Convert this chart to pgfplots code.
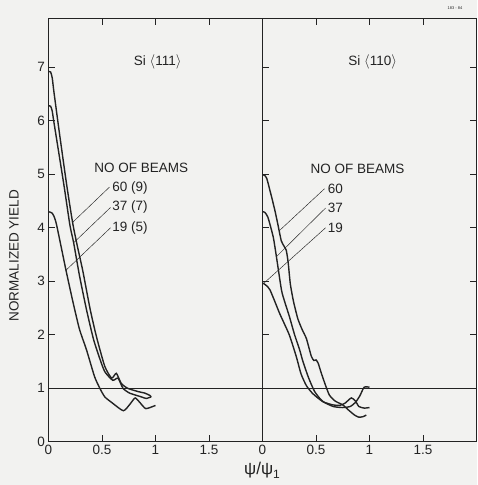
\documentclass[border=0pt]{standalone}
\usepackage{fontspec}
\setmainfont{Liberation Sans}
\usepackage{pgfplots}
\pgfplotsset{compat=1.18}
\definecolor{bg}{RGB}{242,242,240}
\definecolor{ink}{RGB}{35,35,35}
\newcommand{\lbl}{\fontsize{13.5}{15}\selectfont}
\tikzset{lead/.style={ink, line width=0.45pt}}
\begin{document}
\begin{tikzpicture}
\useasboundingbox (-48.5pt,-43.2pt) rectangle (428.5pt,441.8pt);
\fill[bg] (-48.5pt,-43.2pt) rectangle (428.5pt,441.8pt);
\pgfplotsset{
  panel/.style={
    scale only axis, width=214pt, height=423.8pt,
    xmin=0, xmax=2, ymin=0, ymax=7.92,
    axis line style={ink, line width=0.8pt},
    tick style={ink, line width=0.7pt},
    major tick length=6.5pt,
    tick align=inside,
    xtick={0,0.5,1,1.5},
    xticklabels={0,0.5,1,1.5},
    xtick pos=both, xticklabel pos=lower,
    /pgf/number format/assume math mode=true,
    tick label style={font=\lbl, text=ink},
    clip=false,
  },
  curve/.style={ink, line width=1.4pt, smooth, tension=0.35, no marks},
}
% ---------------- left panel: Si <111>
\begin{axis}[panel, name=L,
  ytick={0,1,2,3,4,5,6,7}, ytick pos=left]
\addplot[ink, line width=0.6pt] coordinates {(0,1) (2,1)};
% 60 (9)
\addplot[curve] coordinates {(0,6.92) (0.02,6.91) (0.035,6.8) (0.05,6.55) (0.1,5.8) (0.17,4.8) (0.225,4.1) (0.265,3.7) (0.32,3.2) (0.39,2.47) (0.45,1.95) (0.526,1.41) (0.59,1.19) (0.634,1.28) (0.68,1.09) (0.74,1.0) (0.835,0.94) (0.9,0.91) (0.944,0.87) (0.96,0.84)};
% 37 (7)
\addplot[curve] coordinates {(0,6.28) (0.02,6.27) (0.035,6.18) (0.05,5.98) (0.144,4.8) (0.2,4.05) (0.235,3.72) (0.29,3.1) (0.355,2.47) (0.42,1.92) (0.48,1.55) (0.526,1.31) (0.6,1.15) (0.65,1.19) (0.696,1.0) (0.758,0.91) (0.867,0.84) (0.913,0.81) (0.96,0.84)};
% 19 (5)
\addplot[curve] coordinates {(0,4.3) (0.03,4.28) (0.05,4.22) (0.076,4.05) (0.163,3.21) (0.23,2.6) (0.29,2.1) (0.355,1.72) (0.43,1.22) (0.48,1.0) (0.526,0.84) (0.6,0.72) (0.7,0.58) (0.76,0.7) (0.81,0.82) (0.86,0.72) (0.91,0.62) (1.0,0.68)};
\draw[lead] (axis cs:0.57,4.76) -- (axis cs:0.225,4.1);
\draw[lead] (axis cs:0.58,4.38) -- (axis cs:0.235,3.72);
\draw[lead] (axis cs:0.58,4.0) -- (axis cs:0.16,3.2);
\node[font=\lbl, text=ink] at (axis cs:1.02,7.1) {Si \ensuremath{\langle}111\ensuremath{\rangle}};
\node[font=\lbl, text=ink] at (axis cs:0.866,5.12) {NO OF BEAMS};
\node[font=\lbl, text=ink, anchor=west, inner sep=1pt] at (axis cs:0.585,4.74) {60 (9)};
\node[font=\lbl, text=ink, anchor=west, inner sep=1pt] at (axis cs:0.585,4.38) {37 (7)};
\node[font=\lbl, text=ink, anchor=west, inner sep=1pt] at (axis cs:0.585,4.0) {19 (5)};
\end{axis}
% ---------------- right panel: Si <110>
\begin{axis}[panel, name=R, at={(214pt,0pt)}, anchor=south west,
  ytick={1,2,3,4,5,6,7}, yticklabels={}, ytick pos=both]
\addplot[ink, line width=0.6pt] coordinates {(0,1) (2,1)};
% 60
\addplot[curve] coordinates {(0,4.99) (0.02,4.98) (0.04,4.92) (0.068,4.71) (0.114,4.34) (0.145,4.05) (0.175,3.76) (0.2,3.66) (0.222,3.58) (0.24,3.35) (0.26,2.95) (0.29,2.62) (0.33,2.3) (0.37,2.1) (0.41,1.93) (0.456,1.6) (0.48,1.52) (0.5,1.53) (0.52,1.47) (0.55,1.28) (0.59,1.05) (0.626,0.87) (0.68,0.76) (0.75,0.69) (0.8,0.6) (0.86,0.5) (0.9,0.46) (0.94,0.47) (0.97,0.5)};
% 37
\addplot[curve] coordinates {(0,4.3) (0.02,4.29) (0.05,4.2) (0.1,3.83) (0.13,3.46) (0.177,2.84) (0.207,2.62) (0.25,2.35) (0.3,2.0) (0.347,1.72) (0.378,1.5) (0.43,1.2) (0.487,0.94) (0.56,0.76) (0.66,0.66) (0.75,0.64) (0.82,0.66) (0.87,0.74) (0.91,0.86) (0.95,1.02) (1.0,1.02)};
% 19
\addplot[curve] coordinates {(0,2.97) (0.03,2.93) (0.07,2.84) (0.16,2.4) (0.25,2.0) (0.316,1.59) (0.36,1.27) (0.41,1.05) (0.47,0.9) (0.564,0.75) (0.657,0.69) (0.72,0.68) (0.77,0.72) (0.83,0.82) (0.87,0.76) (0.9,0.66) (0.95,0.63) (1.0,0.64)};
\draw[lead] (axis cs:0.58,4.73) -- (axis cs:0.16,3.95);
\draw[lead] (axis cs:0.59,4.37) -- (axis cs:0.13,3.46);
\draw[lead] (axis cs:0.59,4.0) -- (axis cs:0.005,2.95);
\node[font=\lbl, text=ink] at (axis cs:1.03,7.1) {Si \ensuremath{\langle}110\ensuremath{\rangle}};
\node[font=\lbl, text=ink] at (axis cs:0.887,5.10) {NO OF BEAMS};
\node[font=\lbl, text=ink, anchor=west, inner sep=1pt] at (axis cs:0.6,4.73) {60};
\node[font=\lbl, text=ink, anchor=west, inner sep=1pt] at (axis cs:0.6,4.37) {37};
\node[font=\lbl, text=ink, anchor=west, inner sep=1pt] at (axis cs:0.6,4.0) {19};
\end{axis}
\node[font=\lbl, text=ink, rotate=90] at (-34.5pt,186pt) {NORMALIZED YIELD};
\node[font=\fontsize{17}{18}\selectfont, text=ink] at (213.5pt,-28.5pt) {ψ/ψ\raisebox{-0.45ex}{\fontsize{12}{12}\selectfont 1}};
\node[font=\fontsize{4}{4}\selectfont, text=ink] at (406.5pt,433.8pt) {183 - 84};
\end{tikzpicture}
\end{document}
